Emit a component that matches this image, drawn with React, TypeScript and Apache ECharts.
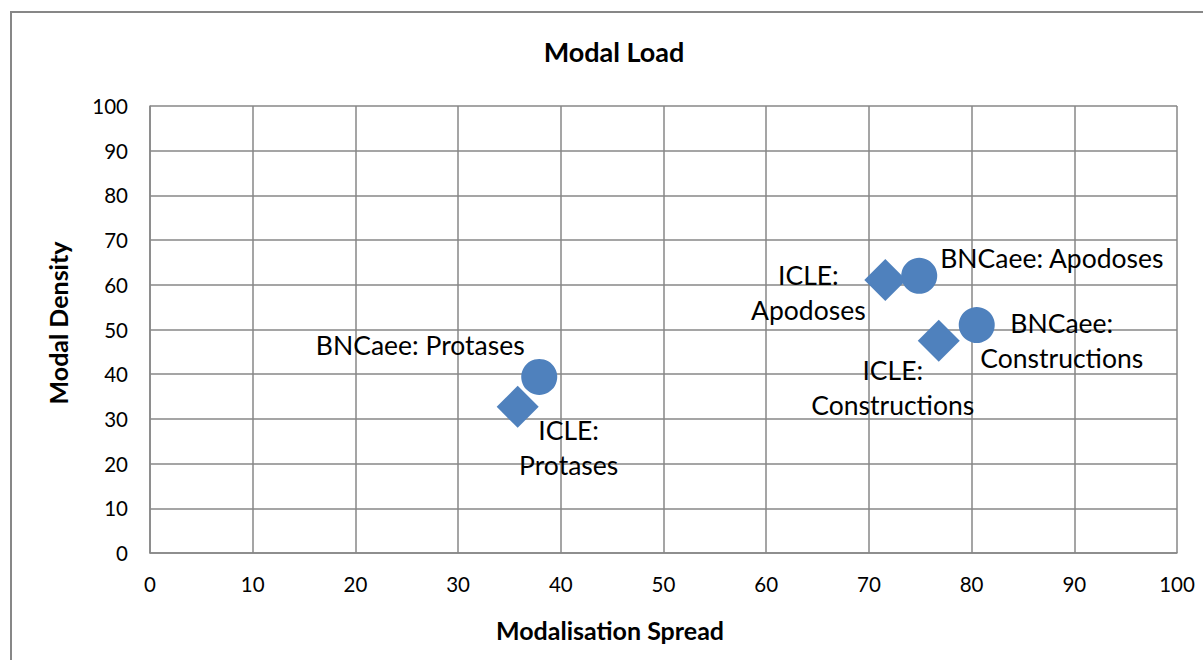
import React, { useEffect, useRef } from "react";
import * as echarts from "echarts";

const categories = ["Protases", "Apodoses", "Constructions"];
const bncaeeX = [37.9, 74.9, 80.5];
const bncaeeY = [39.4, 62.0, 51.0];
const icleX = [35.8, 71.6, 76.8];
const icleY = [32.7, 61.1, 47.5];
const bncaeeLabels = ["BNCaee: Protases", "BNCaee: Apodoses", "BNCaee:\nConstructions"];
const icleLabels = ["ICLE:\nProtases", "ICLE:\nApodoses", "ICLE:\nConstructions"];
const xTicks = [0, 10, 20, 30, 40, 50, 60, 70, 80, 90, 100];
const yTicks = [0, 10, 20, 30, 40, 50, 60, 70, 80, 90, 100];

// label placement styles (offset from marker centre, alignment)
const bncaeeLabelStyle = [
  { offset: [-119, -32], align: "center" },
  { offset: [21, -18], align: "left" },
  { offset: [85, 15], align: "center" },
];
const icleLabelStyle = [
  { offset: [51, 41], align: "center" },
  { offset: [-77, 13], align: "center" },
  { offset: [-46, 47], align: "center" },
];

const FONT = "Lato, 'Open Sans', sans-serif";
const GRID = "#878787";
const MARK = "#4F81BD";

export default function App() {
  const ref = useRef<HTMLDivElement>(null);
  useEffect(() => {
    if (!ref.current) return;
    const chart = echarts.init(ref.current, undefined, { renderer: "svg" });
    const mkData = (xs: number[], ys: number[], labels: string[], styles: any[]) =>
      xs.map((x, i) => ({
        name: categories[i],
        value: [x, ys[i]],
        label: {
          show: true,
          formatter: labels[i],
          position: "inside",
          offset: styles[i].offset,
          align: styles[i].align,
          verticalAlign: "middle",
          color: "#000",
          fontFamily: FONT,
          fontSize: 26.5,
          lineHeight: 35,
        },
      }));
    chart.setOption({
      animation: false,
      backgroundColor: "#fff",
      grid: { left: 150, top: 106, right: 26, bottom: 107, containLabel: false },
      xAxis: {
        type: "value",
        min: xTicks[0],
        max: xTicks[xTicks.length - 1],
        interval: xTicks[1] - xTicks[0],
        axisLine: { show: true, lineStyle: { color: GRID, width: 1.5 } },
        axisTick: { show: false },
        splitLine: { show: true, lineStyle: { color: GRID, width: 1.5 } },
        axisLabel: { color: "#000", fontFamily: FONT, fontSize: 20.5, margin: 20 },
      },
      yAxis: {
        type: "value",
        min: yTicks[0],
        max: yTicks[yTicks.length - 1],
        interval: yTicks[1] - yTicks[0],
        axisLine: { show: true, lineStyle: { color: GRID, width: 1.5 } },
        axisTick: { show: false },
        splitLine: { show: true, lineStyle: { color: GRID, width: 1.5 } },
        axisLabel: { color: "#000", fontFamily: FONT, fontSize: 20.5, margin: 22 },
      },
      graphic: [
        {
          type: "rect",
          shape: { x: 11, y: 12, width: 1230, height: 700 },
          style: { fill: "none", stroke: GRID, lineWidth: 2 },
          silent: true,
          z: -1,
        },
        {
          type: "text",
          x: 614,
          y: 51,
          style: {
            text: "Modal Load",
            fontFamily: FONT,
            fontWeight: "bold",
            fontSize: 27,
            fill: "#000",
            align: "center",
            verticalAlign: "middle",
          },
        },
        {
          type: "text",
          x: 610,
          y: 630,
          style: {
            text: "Modalisation Spread",
            fontFamily: FONT,
            fontWeight: "bold",
            fontSize: 25,
            fill: "#000",
            align: "center",
            verticalAlign: "middle",
          },
        },
        {
          type: "text",
          x: 58,
          y: 323,
          rotation: Math.PI / 2,
          style: {
            text: "Modal Density",
            fontFamily: FONT,
            fontWeight: "bold",
            fontSize: 25,
            fill: "#000",
            align: "center",
            verticalAlign: "middle",
          },
        },
      ],
      series: [
        {
          name: "BNCaee",
          type: "scatter",
          symbol: "circle",
          symbolSize: 36,
          itemStyle: { color: MARK, opacity: 1 },
          data: mkData(bncaeeX, bncaeeY, bncaeeLabels, bncaeeLabelStyle),
          z: 3,
        },
        {
          name: "ICLE",
          type: "scatter",
          symbol: "diamond",
          symbolSize: 42,
          itemStyle: { color: MARK, opacity: 1 },
          data: mkData(icleX, icleY, icleLabels, icleLabelStyle),
          z: 3,
        },
      ],
    });
    return () => chart.dispose();
  }, []);
  return (
    <div
      ref={ref}
      style={{ position: "absolute", left: 0, top: 0, width: 1203, height: 660 }}
    />
  );
}
